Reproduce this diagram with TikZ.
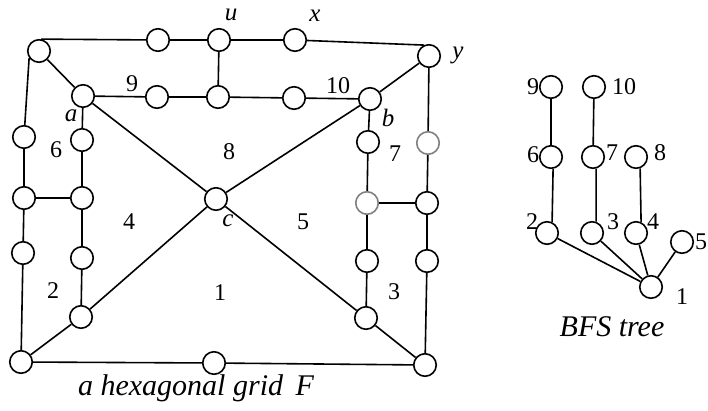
\documentclass[tikz,border=0pt]{standalone}
\usepackage{fontspec}
\setmainfont{Liberation Serif}
\begin{document}
\begin{tikzpicture}[x=1pt,y=-1pt,
  v/.style={circle,draw,line width=1.6pt,minimum size=22.5pt,inner sep=0pt,fill=white},
  vg/.style={v,draw=black!50},
  e/.style={line width=1.6pt},
  lab/.style={font=\fontsize{24}{24}\selectfont},
  ilab/.style={font=\fontsize{25}{25}\selectfont\itshape},
  captext/.style={font=\fontsize{30}{30}\selectfont\itshape}]
\useasboundingbox (0,0) rectangle (708,410);
% ---------- hexagonal grid F ----------
\node[v] (TL) at (39,51) {};
\node[v] (t1) at (158,40) {};
\node[v] (u) at (219,40) {};
\node[v] (x) at (295,40) {};
\node[v] (y) at (429,56) {};
\node[v] (a) at (83,96) {};
\node[v] (m1) at (157,97) {};
\node[v] (m2) at (218,97) {};
\node[v] (m3) at (294,98) {};
\node[v] (b) at (370,99) {};
\node[v] (L1) at (24,137) {};
\node[v] (L2) at (24,198) {};
\node[v] (L3) at (23,253) {};
\node[v] (BL) at (21,362) {};
\node[v] (A1) at (82,140) {};
\node[v] (A2) at (82,198) {};
\node[v] (A3) at (82,258) {};
\node[v] (A4) at (81,317) {};
\node[v] (c) at (216,199) {};
\node[v] (B1) at (368,142) {};
\node[vg] (B2) at (367,203) {};
\node[v] (B3) at (367,261) {};
\node[v] (B4) at (366,318) {};
\node[vg] (R1) at (428,143) {};
\node[v] (R2) at (427,203) {};
\node[v] (R3) at (427,261) {};
\node[v] (BR) at (425,365) {};
\node[v] (bm) at (214,363) {};
\draw[e] (TL.80) -- (t1) -- (u) -- (x) -- (y.115);
\draw[e] (TL) -- (a);
\draw[e] (TL.215) -- (L1) -- (L2) -- (L3) -- (BL);
\draw[e] (a) -- (m1) -- (m2) -- (m3) -- (b);
\draw[e] (u) -- (m2);
\draw[e] (a) -- (A1) -- (A2) -- (A3) -- (A4);
\draw[e] (L2) -- (A2);
\draw[e] (a) -- (c) -- (B4);
\draw[e] (BL) -- (A4) -- (c) -- (b);
\draw[e] (b) -- (y);
\draw[e] (b) -- (B1) -- (B2) -- (B3) -- (B4) -- (BR);
\draw[e] (y) -- (R1) -- (R2) -- (R3) -- (BR);
\draw[e] (B2) -- (R2);
\draw[e] (BL) -- (bm) -- (BR);
% labels
\node[ilab] (lu) at (231,15) {u};
\node[ilab] (lx) at (315,16) {x};
\node[ilab] (ly) at (458,55) {y};
\node[ilab] (la) at (71,116) {a};
\node[ilab] (lb) at (388,118) {b};
\node[ilab] (lc) at (228,221) {c};
\node[lab] (n9) at (132,84) {9};
\node[lab] (n10) at (338,86) {10};
\node[lab] (n6) at (56,150) {6};
\node[lab] (n8) at (229,152) {8};
\node[lab] (n7) at (395,154) {7};
\node[lab] (n4) at (129,222) {4};
\node[lab] (n5) at (303,222) {5};
\node[lab] (n2) at (53,291) {2};
\node[lab] (n1) at (220,293) {1};
\node[lab] (n3) at (394,292) {3};
\node[captext] (capF) at (196,388) {a hexagonal grid\, F};
% ---------- BFS tree ----------
\node[v] (T9) at (551,87) {};
\node[v] (T10) at (594,87) {};
\node[v] (T6) at (551,157) {};
\node[v] (T7) at (593,157) {};
\node[v] (T8) at (636,157) {};
\node[v] (T2) at (547,233) {};
\node[v] (T3) at (592,233) {};
\node[v] (T4) at (636,233) {};
\node[v] (T5) at (682,242) {};
\node[v] (T1) at (651,287) {};
\draw[e] (T9) -- (T6);
\draw[e] (T6.-80) -- (T2.65);
\draw[e] (T10) -- (T7);
\draw[e] (T7.-75) -- (T3.70);
\draw[e] (T8.-70) -- (T4.65);
\draw[e] (T2) -- (T1);
\draw[e] (T3) -- (T1);
\draw[e] (T4) -- (T1);
\draw[e] (T5) -- (T1);
\node[lab] (s9) at (533,87) {9};
\node[lab] (s10) at (624,87) {10};
\node[lab] (s6) at (533,155) {6};
\node[lab] (s7) at (612,153) {7};
\node[lab] (s8) at (660,153) {8};
\node[lab] (s2) at (532,222) {2};
\node[lab] (s3) at (613,222) {3};
\node[lab] (s4) at (653,222) {4};
\node[lab] (s5) at (701,242) {5};
\node[lab] (s1) at (682,297) {1};
\node[captext] (capT) at (612,327) {BFS tree};
\end{tikzpicture}
\end{document}
